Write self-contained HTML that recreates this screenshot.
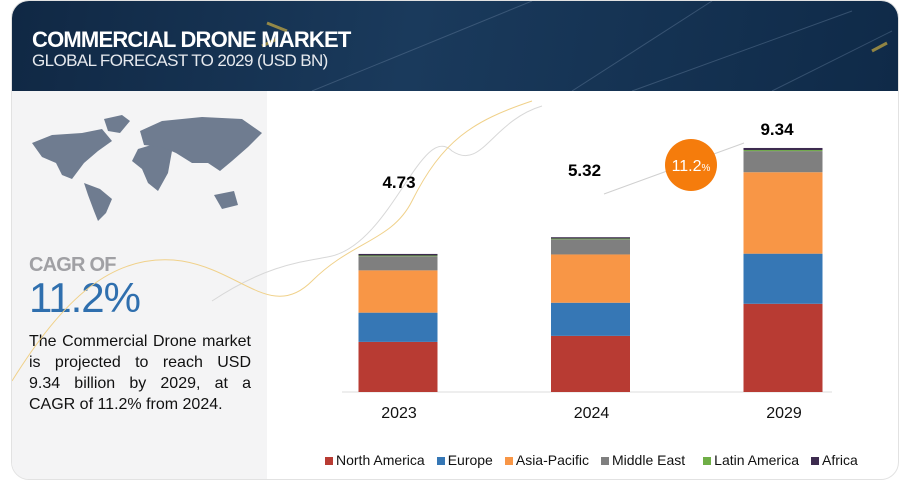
<!DOCTYPE html>
<html><head><meta charset="utf-8"><style>
body{margin:0;width:900px;height:481px;background:#fff;font-family:"Liberation Sans",sans-serif;overflow:hidden;position:relative}
#card{position:absolute;left:11px;top:0;width:886px;height:478px;border:1px solid #e2e2e2;border-radius:18px;overflow:hidden;background:#fff}
#hdr{position:absolute;left:0;top:0;width:886px;height:90px;background:linear-gradient(100deg,#102844 0%,#1a3a5c 45%,#0f2a48 100%)}
#left{position:absolute;left:0;top:90px;width:255px;height:390px;background:#f4f4f5}
.jl{text-align:justify;text-align-last:justify;height:21px}
</style></head><body>
<div id="card">
 <div id="hdr">
  <svg width="886" height="90" style="position:absolute;left:0;top:0">
   <path d="M300 90 L520 0 M560 90 L700 0 M620 90 L840 10 M880 30 L760 90" stroke="#6c86a4" stroke-width="1" opacity="0.4"/>
   <path d="M255 22 L275 30 M250 45 L265 38 M860 50 L875 42" stroke="#e8c040" stroke-width="3" opacity="0.6"/>
  </svg>
  <div style="position:absolute;left:20px;top:26px;color:#fff;font-weight:bold;font-size:22px;letter-spacing:-0.8px">COMMERCIAL DRONE MARKET</div>
  <div style="position:absolute;left:20px;top:50px;color:#e6e9ee;font-size:17px;letter-spacing:-0.6px">GLOBAL FORECAST TO 2029 (USD BN)</div>
 </div>
 <div id="left">
  <svg width="255" height="130" style="position:absolute;left:0;top:0">
   <g fill="#6f7c90">
    <path d="M20 52 L40 44 L70 42 L90 38 L100 50 L86 60 L72 72 L66 80 L60 88 L50 84 L44 72 L30 66 Z"/>
    <path d="M92 28 L110 24 L118 30 L108 42 L96 40 Z"/>
    <path d="M72 92 L88 98 L100 108 L94 122 L86 130 L82 120 L76 104 Z"/>
    <path d="M126 58 L146 52 L160 60 L156 82 L146 100 L136 92 L130 78 L120 70 Z"/>
    <path d="M128 40 L150 30 L190 26 L230 28 L250 42 L236 56 L220 70 L208 80 L196 72 L180 72 L164 62 L150 56 L132 54 Z"/>
    <path d="M202 104 L222 100 L226 114 L210 118 Z"/>
   </g>
  </svg>
  <div style="position:absolute;left:17px;top:163px;color:#a0a0a4;font-size:20px;font-weight:bold;letter-spacing:-0.8px">CAGR OF</div>
  <div style="position:absolute;left:17px;top:183px;color:#2f6fae;font-size:42px;letter-spacing:-1px">11.2%</div>
  <div style="position:absolute;left:17px;top:240px;width:222px;color:#111;font-size:16px;line-height:21px">
   <div class="jl">The Commercial Drone market</div>
   <div class="jl">is projected to reach USD</div>
   <div class="jl">9.34 billion by 2029, at a</div>
   <div>CAGR of 11.2% from 2024.</div>
  </div>
 </div>
 <svg id="chart" width="886" height="480" style="position:absolute;left:0;top:0">
  <path d="M200 300 C260 260 300 260 320 255 C380 240 410 120 440 150 C470 170 480 120 530 105" fill="none" stroke="#d8d8d8" stroke-width="1"/>
  <path d="M0 380 C50 300 100 250 170 260 C230 270 260 320 300 280 C340 240 380 240 400 200 C430 140 460 120 520 100" fill="none" stroke="#f0d18a" stroke-width="1"/>
  <line x1="330" y1="391" x2="820" y2="391" stroke="#dcdcdc"/>
  <line x1="592" y1="193" x2="732" y2="142" stroke="#d0d0d0"/>
  <circle cx="679" cy="164" r="26" fill="#f57c0c"/>
  <text x="679" y="170" text-anchor="middle" fill="#fff" font-size="16">11.2<tspan font-size="10">%</tspan></text>
  <g id="bars"></g>
 </svg>
 <div style="position:absolute;left:313px;top:451px;font-size:14px;color:#111;white-space:nowrap" id="legend"></div>
</div>
<script>
const categories=["2023","2024","2029"];
const totals=["4.73","5.32","9.34"];
const seriesNames=["North America","Europe","Asia-Pacific","Middle East","Latin America","Africa"];
const northAmerica=[1.92,2.15,3.38];
const europe=[1.12,1.27,1.92];
const asiaPacific=[1.62,1.85,3.12];
const middleEast=[0.54,0.58,0.81];
const latinAmerica=[0.03,0.03,0.04];
const africa=[0.06,0.05,0.08];
const colors=["#b83b33","#3677b5","#f89646","#7f7f7f","#6fae46","#3d2b4f"];
const series=[northAmerica,europe,asiaPacific,middleEast,latinAmerica,africa];
const NS="http://www.w3.org/2000/svg";
const base=391, pxPerUnit=26.1, barW=79;
const xCenter=i=>386+i*192.5;
const y=v=>base-v*pxPerUnit;
const labelY=[181,169,128];
const labelDx=[1,-6,-6];
const g=document.getElementById('bars');
categories.forEach((c,i)=>{
  let acc=0;
  series.forEach((s,k)=>{
    const r=document.createElementNS(NS,'rect');
    r.setAttribute('x',xCenter(i)-barW/2);
    r.setAttribute('y',y(acc+s[i]));
    r.setAttribute('width',barW);
    r.setAttribute('height',s[i]*pxPerUnit);
    r.setAttribute('fill',colors[k]);
    
    
    g.appendChild(r);acc+=s[i];
  });
  const t=document.createElementNS(NS,'text');
  t.setAttribute('x',xCenter(i)+labelDx[i]);t.setAttribute('y',Math.min(labelY[i],y(acc)-14)+6);
  t.setAttribute('text-anchor','middle');t.setAttribute('font-size','17');t.setAttribute('font-weight','bold');
  t.textContent=totals[i];
  
  
  g.appendChild(t);
  const xl=document.createElementNS(NS,'text');
  xl.setAttribute('x',xCenter(i)+1);xl.setAttribute('y',417);
  xl.setAttribute('text-anchor','middle');xl.setAttribute('font-size','16');xl.setAttribute('fill','#111');
  xl.textContent=c;
  
  
  g.appendChild(xl);
});
const lg=document.getElementById('legend');
seriesNames.forEach((n,k)=>{
  const sp=document.createElement('span');
  sp.style.marginRight=k==3?'18px':'12px';
  sp.innerHTML='<span style="display:inline-block;width:8px;height:8px;background:'+colors[k]+';margin-right:3px"></span>'+n;
  
  
  lg.appendChild(sp);
});
</script>
</body></html>
